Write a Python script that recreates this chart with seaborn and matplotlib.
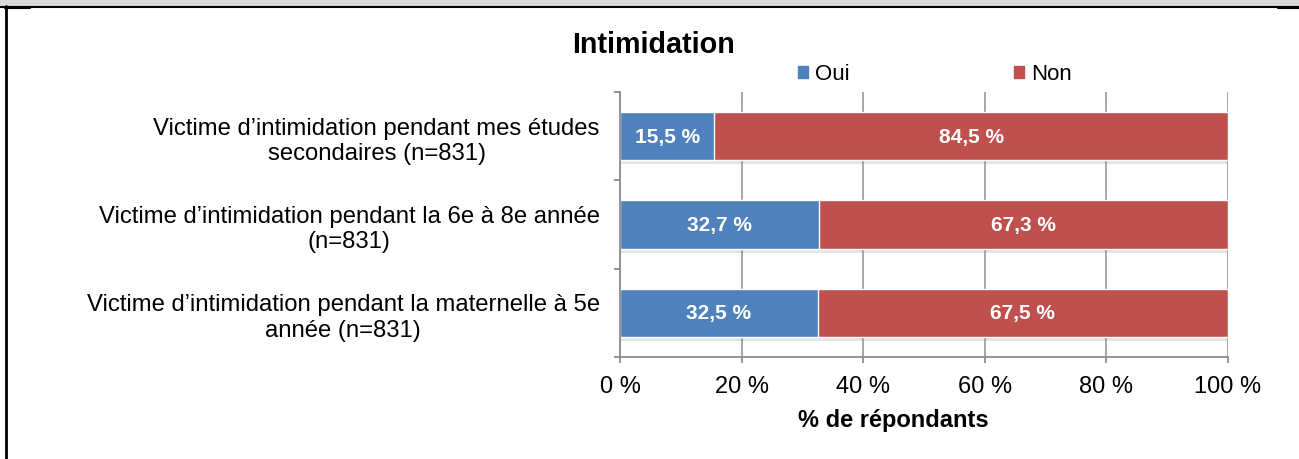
import pandas as pd
import matplotlib.pyplot as plt
import matplotlib.patheffects as pe
from matplotlib.patches import Patch, Rectangle
from matplotlib.lines import Line2D
import seaborn as sns

# Data
categories = [
    "Victime d\u2019intimidation pendant mes études\nsecondaires (n=831)",
    "Victime d\u2019intimidation pendant la 6e à 8e année\n(n=831)",
    "Victime d\u2019intimidation pendant la maternelle à 5e\nannée (n=831)",
]
oui = [15.5, 32.7, 32.5]
non = [84.5, 67.3, 67.5]
x_ticks = [0, 20, 40, 60, 80, 100]

blue = "#4F81BD"
red = "#C0504D"
grey = "#8C8C8C"

sns.set_style("white")
plt.rcParams["font.family"] = ["Liberation Sans", "DejaVu Sans"]
plt.rcParams["text.color"] = "black"
plt.rcParams["xtick.labelcolor"] = "black"
plt.rcParams["ytick.labelcolor"] = "black"

df = pd.DataFrame({"cat": categories, "oui": oui, "non": non})
df["total"] = df["oui"] + df["non"]

fig = plt.figure(figsize=(12.99, 4.6), dpi=100)
ax = fig.add_axes([0.4773, 0.2217, 0.468, 0.5761])

# stacked bars: full bar in red, Oui drawn on top
sns.barplot(data=df, y="cat", x="total", color=red, orient="h", width=0.545,
            edgecolor="white", linewidth=1, saturation=1, ax=ax)
for p in ax.patches:
    p.set_path_effects([pe.SimplePatchShadow(offset=(0, -3), shadow_rgbFace="#888888", alpha=0.22),
                        pe.Normal()])
sns.barplot(data=df, y="cat", x="oui", color=blue, orient="h", width=0.545,
            edgecolor="white", linewidth=1, saturation=1, ax=ax)

# value labels
fmt = lambda v: f"{v:.1f}".replace(".", ",") + " %"
ax.bar_label(ax.containers[1], labels=[fmt(v) for v in df["oui"]], label_type="center",
             color="white", fontweight="bold", fontsize=15)
for i, (o, n) in enumerate(zip(df["oui"], df["non"])):
    ax.text(o + n / 2, i, fmt(n), ha="center", va="center", color="white",
            fontweight="bold", fontsize=15)

ax.set_xlim(0, 100)
ax.set_ylim(2.5, -0.5)
ax.set_xticks(x_ticks, labels=[f"{t} %" for t in x_ticks])
ax.set_yticks([0, 1, 2], labels=categories)
ax.set_yticks([-0.5, 0.5, 1.5, 2.5], minor=True)
for lab in ax.get_yticklabels():
    lab.set_multialignment("center")
ax.set_xlabel("")
ax.set_ylabel("")

ax.grid(axis="x", color="#A0A0A0", linewidth=1.3)
ax.grid(axis="y", visible=False)
ax.set_axisbelow(True)
for s in ["top", "right"]:
    ax.spines[s].set_visible(False)
for s in ["left", "bottom"]:
    ax.spines[s].set_color(grey)
    ax.spines[s].set_linewidth(1.3)

ax.tick_params(axis="x", which="major", direction="out", length=4, width=1.3, color=grey,
               pad=9, labelsize=17, bottom=True)
ax.tick_params(axis="y", which="major", length=0, pad=14.5, labelsize=17.2)
ax.tick_params(axis="y", which="minor", direction="out", length=4.5, width=1.3, color=grey, left=True)

# titles
fig.text(653 / 1299, 1 - 45 / 460, "Intimidation", ha="center", va="center",
         fontsize=20.7, fontweight="bold")
fig.text(893 / 1299, 1 - 421 / 460, "% de répondants", ha="center", va="center",
         fontsize=17, fontweight="bold")

handles = [Patch(color=blue, label="Oui"), Patch(color=red, label="Non")]
fig.legend(handles=handles, loc="center", bbox_to_anchor=(935 / 1299, 1 - 75 / 460), ncol=2,
           frameon=False, fontsize=16, handlelength=0.45, handleheight=0.45,
           handletextpad=0.3, columnspacing=7.4)

# surrounding table borders
fig.patches.append(Rectangle((0, 1 - 7 / 460), 1, 7 / 460, transform=fig.transFigure,
                             facecolor="#D9D9D9", edgecolor="none"))
fig.lines.append(Line2D([0, 1], [1 - 7.5 / 460] * 2, transform=fig.transFigure, color="black", lw=1.5))
fig.lines.append(Line2D([6 / 1299] * 2, [0, 1 - 7 / 460], transform=fig.transFigure, color="black", lw=2))
fig.lines.append(Line2D([5 / 1299, 30 / 1299], [1 - 8.5 / 460] * 2, transform=fig.transFigure, color="black", lw=1.5))
fig.lines.append(Line2D([1278 / 1299, 1], [1 - 8.5 / 460] * 2, transform=fig.transFigure, color="black", lw=1.5))

fig.savefig("out.png", dpi=100)
